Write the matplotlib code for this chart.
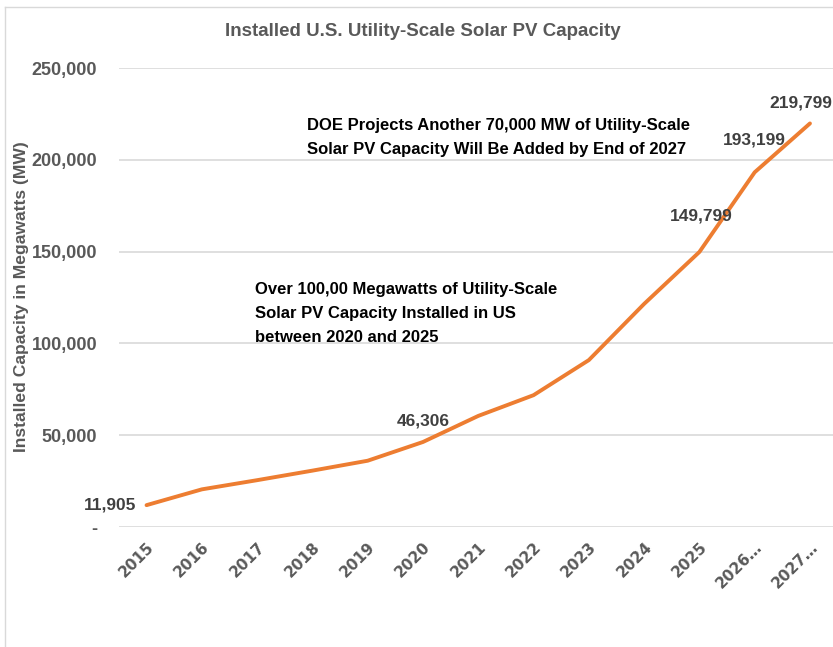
import matplotlib
matplotlib.use("Agg")
import matplotlib.pyplot as plt
from matplotlib.lines import Line2D
from matplotlib.ticker import FuncFormatter

years = ["2015", "2016", "2017", "2018", "2019", "2020", "2021", "2022",
         "2023", "2024", "2025", "2026…", "2027…"]
capacity_mw = [11905, 20500, 25500, 30700, 36100, 46306, 60500, 71800,
               90900, 121500, 149799, 193199, 219799]
labelled = {0: "11,905", 5: "46,306", 10: "149,799", 11: "193,199", 12: "219,799"}

title = "Installed U.S. Utility-Scale Solar PV Capacity"
ylabel = "Installed Capacity in Megawatts (MW)"
note_top = "DOE Projects Another 70,000 MW of Utility-Scale\nSolar PV Capacity Will Be Added by End of 2027"
note_mid = "Over 100,00 Megawatts of Utility-Scale\nSolar PV Capacity Installed in US\nbetween 2020 and 2025"

W, H = 833, 647
fig = plt.figure(figsize=(W / 100, H / 100), dpi=100)
fig.patch.set_facecolor("white")

def fx(px):
    return px / W

def fy(py):
    return 1 - py / H

FAM = ["Liberation Sans", "DejaVu Sans"]

ax = fig.add_axes([fx(118.9), fy(527), fx(837.6) - fx(118.9), fy(68) - fy(527)])
x = list(range(len(years)))
ax.plot(x, capacity_mw, color="#ED7D31", lw=2.8, solid_capstyle="round", zorder=3)
ax.set_xlim(-0.5, len(years) - 0.5)
ax.set_ylim(0, 250000)
ax.set_yticks([0, 50000, 100000, 150000, 200000, 250000])
ax.yaxis.set_major_formatter(FuncFormatter(lambda v, p: "-" if v == 0 else f"{int(v):,}"))
ax.grid(axis="y", color="#D9D9D9", lw=1.2)
ax.set_axisbelow(True)
for s in ax.spines.values():
    s.set_visible(False)
ax.tick_params(axis="both", length=0)
ax.set_xticks(x)
ax.set_xticklabels(years, rotation=45, ha="right", va="top", rotation_mode="anchor",
                   fontsize=11, fontweight="bold", color="#595959",
                   family=["DejaVu Sans"])
for lab in ax.get_yticklabels():
    lab.set_fontsize(13)
    lab.set_fontweight("bold")
    lab.set_color("#595959")
    lab.set_family(FAM)
ax.tick_params(axis="y", pad=15.5)
ax.tick_params(axis="x", pad=9)

fig.text(fx(22), fy(297), ylabel, rotation=90, ha="center", va="center",
         fontsize=12.6, fontweight="bold", color="#595959", family=FAM)

fig.text(fx(423), fy(32), title, ha="center", va="center", fontsize=13.5,
         fontweight="bold", color="#595959", family=FAM)

# data labels (offsets in pixels)
offsets = {0: (-10, 0, "right", "center"), 5: (0, 21, "center", "center"),
           10: (2, 36, "center", "center"), 11: (0, 32, "center", "center"),
           12: (-9, 20, "center", "center")}
for i, txt in labelled.items():
    dx, dy, ha, va = offsets[i]
    ax.annotate(txt, (x[i], capacity_mw[i]), xytext=(dx * 0.72, dy * 0.72),
                textcoords="offset points", ha=ha, va=va, fontsize=12.5,
                fontweight="bold", color="#404040", family=FAM,
                annotation_clip=False)

fig.text(fx(307), fy(137.5), note_top, ha="left", va="center", fontsize=12,
         fontweight="bold", color="black", linespacing=1.75, family=FAM)
fig.text(fx(255), fy(313), note_mid, ha="left", va="center", fontsize=12,
         fontweight="bold", color="black", linespacing=1.75, family=FAM)

# chart border
fig.add_artist(Line2D([fx(5), fx(5)], [fy(7), fy(647)], color="#D9D9D9", lw=1))
fig.add_artist(Line2D([fx(5), fx(833)], [fy(7), fy(7)], color="#D9D9D9", lw=1))

fig.savefig("out.png", dpi=100, facecolor="white")
